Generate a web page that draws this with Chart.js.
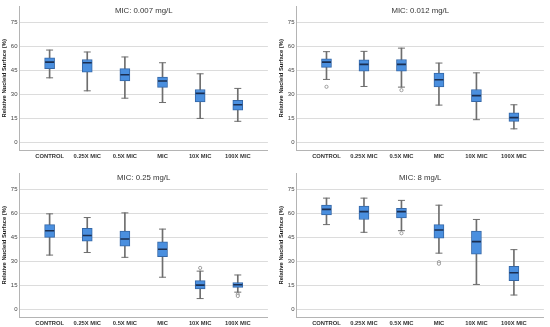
<!DOCTYPE html>
<html>
<head>
<meta charset="utf-8">
<script src="https://cdn.jsdelivr.net/npm/chart.js@4.4.1/dist/chart.umd.min.js"></script>
<style>
  body { margin: 0; background: #fff; width: 550px; height: 327px; position: relative; overflow: hidden; }
  canvas { position: absolute; }
</style>
</head>
<body>
<canvas id="c007" width="274" height="160" style="left:0;top:0"></canvas>
<canvas id="c012" width="273" height="160" style="left:277px;top:0"></canvas>
<canvas id="c025" width="274" height="160" style="left:0;top:167px"></canvas>
<canvas id="c8" width="273" height="160" style="left:277px;top:167px"></canvas>
<script>
const categories = ['CONTROL', '0.25X MIC', '0.5X MIC', 'MIC', '10X MIC', '100X MIC'];
const yTicks = [0, 15, 30, 45, 60, 75];
const yLabel = 'Relative Nucleid Surface (%)';

// MIC: 0.007 mg/L
const p007Min = [40.3, 32.2, 27.6, 24.9, 15.0, 13.2];
const p007Q1  = [46.0, 43.8, 38.3, 34.3, 25.3, 20.1];
const p007Med = [50.1, 49.7, 42.2, 38.3, 30.6, 23.5];
const p007Q3  = [52.7, 51.7, 46.0, 40.7, 33.0, 26.2];
const p007Max = [57.6, 56.4, 53.3, 49.7, 42.8, 33.7];
const p007Out = [];

// MIC: 0.012 mg/L
const p012Min = [39.3, 34.9, 34.5, 23.3, 14.2, 8.5];
const p012Q1  = [46.8, 44.4, 44.4, 34.7, 25.5, 13.2];
const p012Med = [50.1, 48.7, 48.7, 39.1, 29.2, 15.5];
const p012Q3  = [52.1, 51.5, 51.7, 43.2, 33.0, 18.5];
const p012Max = [56.6, 56.8, 58.8, 49.5, 43.4, 23.5];
const p012Out = [[0, 34.7], [2, 32.6]];

// MIC: 0.25 mg/L
const p025Min = [33.9, 35.5, 32.5, 20.1, 6.8, 10.8];
const p025Q1  = [44.9, 42.5, 39.5, 32.9, 12.8, 13.8];
const p025Med = [49.1, 46.1, 43.9, 37.5, 15.2, 15.4];
const p025Q3  = [52.9, 50.5, 48.9, 42.1, 18.0, 16.8];
const p025Max = [59.6, 57.3, 60.2, 50.1, 23.9, 21.5];
const p025Out = [[4, 25.9], [5, 9.4], [5, 8.4]];

// MIC: 8 mg/L
const p8Min = [52.9, 48.1, 49.1, 35.1, 15.6, 9.0];
const p8Q1  = [59.0, 56.1, 57.1, 44.5, 34.5, 18.0];
const p8Med = [62.4, 61.0, 61.0, 49.5, 42.3, 22.9];
const p8Q3  = [65.0, 64.4, 63.0, 52.9, 48.9, 26.9];
const p8Max = [69.4, 69.4, 68.0, 65.0, 56.1, 37.3];
const p8Out = [[2, 47.5], [3, 29.5], [3, 28.5]];

// title sits inside the plot area, above the 75 gridline
const panelTitle = {
    id: 'panelTitle',
    afterDraw(chart, args, opts) {
        const { ctx, chartArea } = chart;
        ctx.save();
        ctx.font = '7.8px "Liberation Sans"';
        ctx.fillStyle = '#333';
        ctx.textAlign = 'center';
        ctx.textBaseline = 'middle';
        ctx.fillText(opts.text, (chartArea.left + chartArea.right) / 2, 11);
        ctx.restore();
    }
};

function makePanel(id, title, mins, q1s, meds, q3s, maxs, outs) {
    const pts = arr => arr.map((v, i) => ({ x: i, y: v }));
    new Chart(document.getElementById(id), {
        type: 'bar',
        plugins: [panelTitle],
        data: {
            datasets: [
                {
                    // whisker line
                    type: 'bar',
                    data: categories.map((c, i) => ({ x: i, y: [mins[i], maxs[i]] })),
                    backgroundColor: '#6e6e6e',
                    barThickness: 1,
                    grouped: false,
                    order: 5
                },
                {
                    // box q1..q3
                    type: 'bar',
                    data: categories.map((c, i) => ({ x: i, y: [q1s[i], q3s[i]] })),
                    backgroundColor: '#4a8fdf',
                    borderColor: '#3567a6',
                    borderWidth: 1,
                    borderSkipped: false,
                    barThickness: 10,
                    grouped: false,
                    order: 4
                },
                {
                    // whisker caps
                    type: 'scatter',
                    data: pts(mins).concat(pts(maxs)),
                    pointStyle: 'line',
                    radius: 3.5,
                    borderColor: '#6e6e6e',
                    borderWidth: 1,
                    order: 2
                },
                {
                    // median
                    type: 'scatter',
                    data: pts(meds),
                    pointStyle: 'line',
                    radius: 4.5,
                    borderColor: '#1b2f52',
                    borderWidth: 1.6,
                    order: 1
                },
                {
                    type: 'scatter',
                    data: outs.map(o => ({ x: o[0], y: o[1] })),
                    pointStyle: 'circle',
                    radius: 1.6,
                    borderColor: '#8a8a8a',
                    backgroundColor: '#fff',
                    borderWidth: 0.8,
                    order: 3
                }
            ]
        },
        options: {
            responsive: false,
            animation: false,
            events: [],
            layout: { padding: { top: 2.5, right: 5, bottom: 0, left: 0 } },
            plugins: {
                legend: { display: false },
                tooltip: { enabled: false },
                panelTitle: { text: title }
            },
            scales: {
                x: {
                    type: 'linear',
                    offset: false,
                    min: -0.8,
                    max: 5.8,
                    afterBuildTicks: s => { s.ticks = categories.map((c, i) => ({ value: i })); },
                    afterFit: s => { s.height = 9.5; },
                    ticks: {
                        callback: (v, i) => categories[i],
                        autoSkip: false,
                        maxRotation: 0,
                        padding: 2,
                        color: '#333',
                        font: { size: 5.8, weight: 'bold', family: 'Liberation Sans' }
                    },
                    grid: { display: false, drawTicks: false },
                    border: { color: '#b4b4b4' }
                },
                y: {
                    min: -5,
                    max: 85,
                    afterBuildTicks: s => { s.ticks = yTicks.map(v => ({ value: v })); },
                    afterFit: s => { s.width = 19.5; },
                    ticks: {
                        padding: 2,
                        color: '#444',
                        font: { size: 6, family: 'Liberation Sans' }
                    },
                    grid: { color: '#dcdcdc', drawTicks: false },
                    border: { color: '#b4b4b4' },
                    title: {
                        display: true,
                        text: yLabel,
                        color: '#222',
                        padding: { top: 1, bottom: 0 },
                        font: { size: 5.8, weight: 'bold', family: 'Liberation Sans' }
                    }
                }
            }
        }
    });
}

makePanel('c007', 'MIC: 0.007 mg/L', p007Min, p007Q1, p007Med, p007Q3, p007Max, p007Out);
makePanel('c012', 'MIC: 0.012 mg/L', p012Min, p012Q1, p012Med, p012Q3, p012Max, p012Out);
makePanel('c025', 'MIC: 0.25 mg/L', p025Min, p025Q1, p025Med, p025Q3, p025Max, p025Out);
makePanel('c8', 'MIC: 8 mg/L', p8Min, p8Q1, p8Med, p8Q3, p8Max, p8Out);
</script>
</body>
</html>
